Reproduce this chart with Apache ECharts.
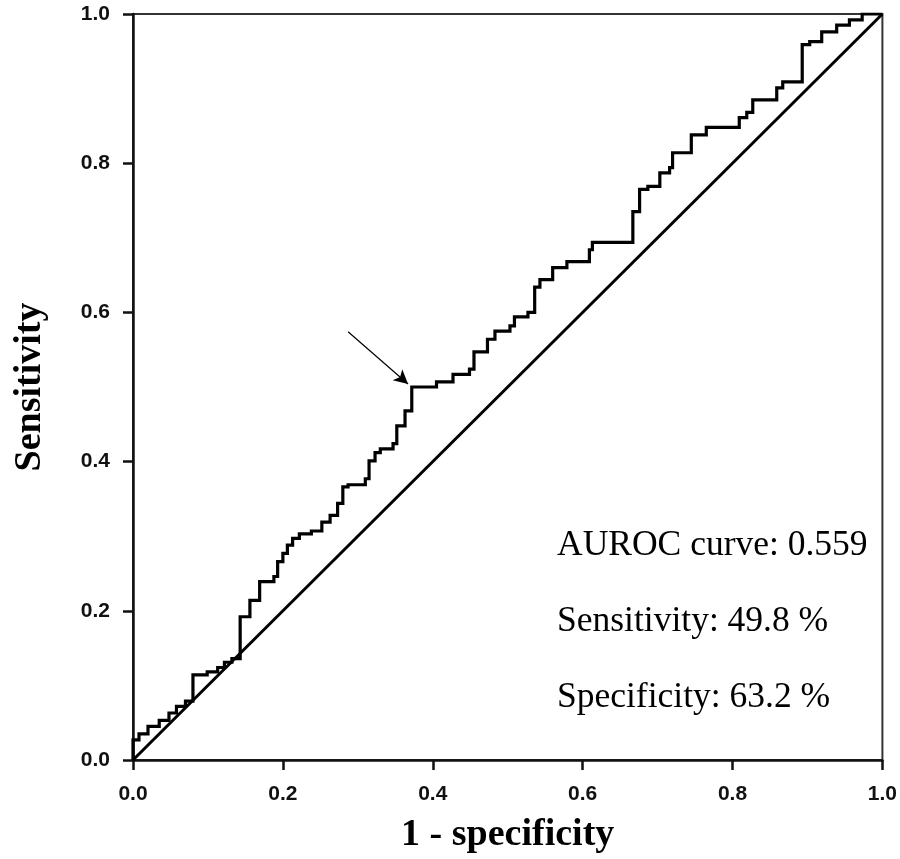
<!DOCTYPE html>
<html>
<head>
    <meta charset="utf-8">
    <title>ROC curve</title>
    <script src="https://cdn.jsdelivr.net/npm/echarts@6/dist/echarts.min.js"></script>
    <style type="text/css">
        html, body {
            margin: 0;
            padding: 0;
            background: #fff;
        }

        #main {
            width: 900px;
            height: 859px;
        }
    </style>
</head>
<body>
<div id="main"></div>
<script>
    // left end of each horizontal run of the ROC staircase
    var fpr = [0, 0, 0.008, 0.02, 0.035, 0.048, 0.058, 0.07, 0.08, 0.099,
        0.113, 0.122, 0.132, 0.143, 0.156, 0.169, 0.188, 0.193, 0.2, 0.206,
        0.213, 0.222, 0.238, 0.252, 0.263, 0.273, 0.28, 0.287, 0.31, 0.315,
        0.323, 0.33, 0.347, 0.352, 0.363, 0.372, 0.405, 0.427, 0.449, 0.455,
        0.473, 0.483, 0.503, 0.509, 0.527, 0.536, 0.543, 0.56, 0.579, 0.609,
        0.613, 0.667, 0.676, 0.687, 0.703, 0.716, 0.72, 0.745, 0.765, 0.809,
        0.819, 0.827, 0.859, 0.867, 0.893, 0.903, 0.919, 0.939, 0.956, 0.973,
        1];
    var tpr = [0, 0.027, 0.035, 0.045, 0.053, 0.063, 0.072, 0.079, 0.114, 0.118,
        0.124, 0.131, 0.136, 0.192, 0.214, 0.239, 0.246, 0.266, 0.277, 0.288,
        0.297, 0.303, 0.307, 0.319, 0.328, 0.344, 0.366, 0.369, 0.377, 0.401,
        0.412, 0.417, 0.424, 0.448, 0.468, 0.5, 0.507, 0.517, 0.524, 0.547,
        0.564, 0.575, 0.582, 0.594, 0.6, 0.634, 0.644, 0.66, 0.668, 0.684,
        0.694, 0.735, 0.765, 0.769, 0.787, 0.794, 0.814, 0.838, 0.848, 0.861,
        0.868, 0.885, 0.901, 0.909, 0.959, 0.963, 0.976, 0.985, 0.992, 1,
        1];
    var refX = [0, 1];
    var refY = [0, 1];
    var cutoff = [0.367, 0.504];      // arrow tip
    var arrowFrom = [0.287, 0.574];   // arrow tail
    var notes = ['AUROC curve: 0.559', 'Sensitivity: 49.8 %', 'Specificity: 63.2 %'];

    var rocData = fpr.map(function (x, i) {
        return [x, tpr[i]];
    });
    var refData = refX.map(function (x, i) {
        return [x, refY[i]];
    });

    var tickFont = {
        fontFamily: 'Liberation Sans',
        fontWeight: 'bold',
        fontSize: 21,
        color: '#111'
    };
    var nameFont = {
        fontFamily: 'Liberation Serif',
        fontWeight: 'bold',
        fontSize: 38,
        color: '#000'
    };

    var myChart = echarts.init(document.getElementById('main'));

    var option = {
        animation: false,
        backgroundColor: '#fff',
        grid: {
            left: 133,
            right: 17,
            top: 14,
            bottom: 97,
            show: true,
            borderColor: '#333',
            borderWidth: 2
        },
        xAxis: {
            type: 'value',
            min: 0,
            max: 1,
            interval: 0.2,
            name: '1 - specificity',
            nameLocation: 'middle',
            nameGap: 56,
            nameTextStyle: nameFont,
            axisLine: {lineStyle: {color: '#111', width: 2.5}},
            axisTick: {show: true, length: 10, lineStyle: {color: '#111', width: 2.5}},
            axisLabel: Object.assign({
                margin: 24,
                formatter: function (v) {
                    return v.toFixed(1);
                }
            }, tickFont),
            splitLine: {show: false}
        },
        yAxis: {
            type: 'value',
            min: 0,
            max: 1,
            interval: 0.2,
            name: 'Sensitivity',
            nameLocation: 'middle',
            nameGap: 84,
            nameTextStyle: nameFont,
            axisLine: {lineStyle: {color: '#111', width: 2.5}},
            axisTick: {show: true, length: 10, lineStyle: {color: '#111', width: 2.5}},
            axisLabel: Object.assign({
                margin: 23,
                formatter: function (v) {
                    return v.toFixed(1);
                }
            }, tickFont),
            splitLine: {show: false}
        },
        series: [{
            name: 'reference',
            type: 'line',
            data: refData,
            showSymbol: false,
            silent: true,
            lineStyle: {color: '#000', width: 3},
            markLine: {
                silent: true,
                symbol: ['none', 'arrow'],
                symbolSize: [11, 14],
                label: {show: false},
                lineStyle: {color: '#000', width: 1.2, type: 'solid'},
                data: [[
                    {coord: arrowFrom},
                    {coord: cutoff}
                ]]
            }
        }, {
            name: 'ROC',
            type: 'line',
            step: 'end',
            data: rocData,
            showSymbol: false,
            silent: true,
            lineStyle: {color: '#000', width: 3.2, join: 'miter'}
        }],
        graphic: notes.map(function (t, i) {
            return {
                type: 'text',
                x: 557,
                y: 546 + i * 76,
                style: {
                    text: t,
                    fontFamily: 'Liberation Serif',
                    fontSize: 35.5,
                    fill: '#000',
                    textAlign: 'left',
                    textVerticalAlign: 'middle'
                }
            };
        })
    };
    myChart.setOption(option);
</script>
</body>
</html>
